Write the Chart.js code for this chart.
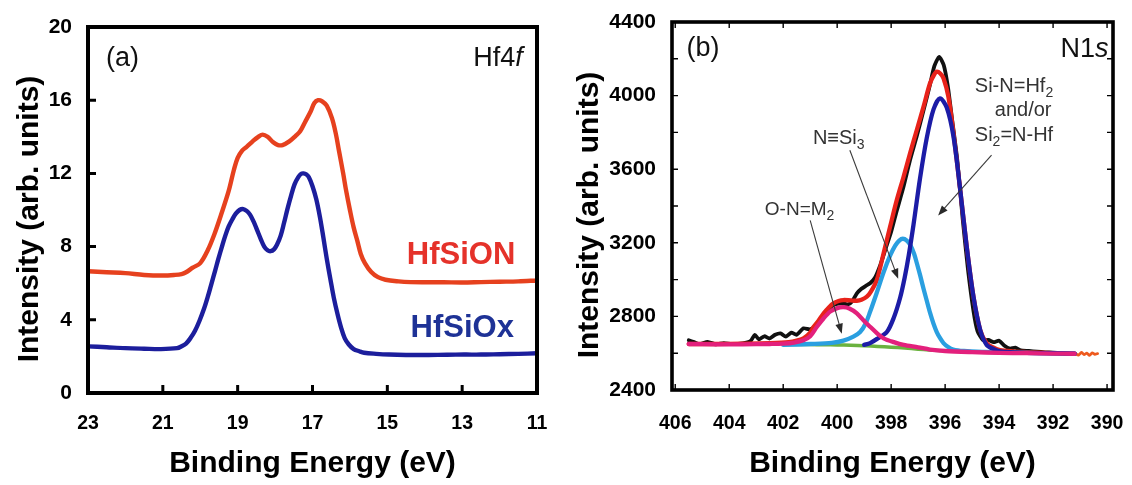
<!DOCTYPE html>
<html><head><meta charset="utf-8">
<script src="https://cdn.jsdelivr.net/npm/chart.js"></script>
<style>
html,body{margin:0;padding:0;background:#fff;}
#wrap{position:relative;width:1132px;height:485px;overflow:hidden;background:#fff;}
canvas{position:absolute;top:0;}
#ca{left:0;} #cb{left:560px;}
</style></head><body>
<div id="wrap"><canvas id="ca" width="560" height="485"></canvas><canvas id="cb" width="572" height="485"></canvas></div>
<script>
// ---------- Panel (a): Hf4f ----------
const energyHfSiON = [23.0,22.5,22.0,21.5,21.0,20.7,20.5,20.38,20.2,20.0,19.8,19.62,19.45,19.24,19.1,19.0,18.88,18.76,18.6,18.45,18.33,18.2,18.05,17.92,17.8,17.62,17.45,17.33,17.2,17.05,16.95,16.85,16.75,16.62,16.48,16.38,16.29,16.18,16.1,16.0,15.9,15.8,15.71,15.6,15.43,15.25,15.05,14.7,14.38,14.0,13.5,13.0,12.5,12.0,11.5,11.0];
const intensityHfSiON = [6.65,6.6,6.55,6.45,6.42,6.45,6.5,6.6,6.85,7.1,7.8,8.69,9.7,11.04,12.2,12.85,13.25,13.45,13.75,14.0,14.12,14.0,13.7,13.55,13.55,13.75,14.05,14.3,14.8,15.38,15.85,16.0,15.95,15.7,15.02,14.2,13.21,12.0,11.04,10.0,9.05,8.3,7.6,7.1,6.61,6.33,6.19,6.1,6.06,6.05,6.05,6.04,6.06,6.08,6.1,6.15];
const energyHfSiOx = [23.0,22.5,22.0,21.5,21.05,20.62,20.5,20.38,20.26,20.14,20.02,19.9,19.8,19.71,19.6,19.52,19.42,19.33,19.24,19.14,19.05,18.95,18.85,18.76,18.67,18.57,18.48,18.38,18.29,18.2,18.12,18.03,17.95,17.85,17.76,17.67,17.57,17.48,17.38,17.3,17.24,17.17,17.1,17.0,16.9,16.8,16.71,16.62,16.52,16.43,16.33,16.24,16.14,16.03,15.9,15.75,15.62,15.3,14.95,14.5,13.9,13.4,12.95,12.5,12.0,11.5,11.0];
const intensityHfSiOx = [2.55,2.5,2.45,2.42,2.4,2.45,2.55,2.7,3.0,3.4,3.95,4.6,5.25,5.9,6.7,7.3,8.0,8.6,9.1,9.5,9.8,10.0,10.05,9.95,9.75,9.35,8.9,8.4,8.0,7.8,7.75,7.85,8.1,8.6,9.3,10.05,10.8,11.4,11.8,11.98,12.0,11.95,11.8,11.3,10.6,9.6,8.5,7.35,6.2,5.2,4.3,3.6,3.0,2.65,2.4,2.28,2.2,2.14,2.1,2.08,2.08,2.09,2.1,2.1,2.12,2.14,2.17];
const ticksAX = [23,21,19,17,15,13,11];
const ticksAY = [0,4,8,12,16,20];
const innerTicksAX = [21,19,17,15,13];
const innerTicksAY = [4,8,12,16];

// ---------- Panel (b): N1s ----------
const energyRaw = [405.5,405.3,405.1,404.8,404.5,404.2,403.9,403.5,403.2,403.05,402.9,402.7,402.5,402.3,402.1,401.9,401.7,401.5,401.25,401.0,400.75,400.5,400.3,400.14,399.95,399.77,399.6,399.45,399.27,399.1,398.95,398.78,398.6,398.4,398.2,398.0,397.8,397.55,397.3,397.05,396.8,396.56,396.4,396.22,396.05,395.9,395.75,395.55,395.35,395.15,394.95,394.8,394.6,394.4,394.2,394.0,393.8,393.6,393.4,393.2,392.9,392.6,392.3,392.0,391.7,391.4];
const intensityRaw = [2670,2660,2650,2662,2648,2655,2650,2654,2668,2700,2675,2692,2680,2700,2708,2690,2712,2700,2735,2730,2753,2798,2840,2862,2870,2871,2865,2880,2925,2950,2965,2980,3010,3080,3170,3260,3370,3500,3650,3780,3920,4060,4160,4211,4165,4050,3880,3650,3330,3050,2830,2720,2672,2672,2660,2668,2640,2625,2630,2615,2612,2608,2605,2603,2600,2598];
const energyFit = [405.5,404.5,403.5,402.5,401.8,401.5,401.25,401.0,400.87,400.7,400.5,400.3,400.14,399.95,399.77,399.5,399.27,399.1,398.9,398.75,398.53,398.28,398.04,397.79,397.54,397.3,397.05,396.8,396.56,396.4,396.31,396.18,396.06,395.88,395.69,395.44,395.2,394.95,394.7,394.46,394.2,393.96,393.5,393.0,392.5,392.0,391.5,391.2];
const intensityFit = [2650,2650,2652,2655,2660,2668,2681,2712,2744,2775,2817,2850,2871,2884,2889,2887,2885,2890,2907,2935,2998,3143,3287,3433,3559,3686,3813,3940,4067,4115,4130,4120,4094,3994,3795,3487,3179,2907,2726,2654,2630,2617,2610,2606,2603,2600,2598,2597];
const energyTail = [391.2,391.05,390.95,390.85,390.75,390.65,390.55,390.45,390.35];
const intensityTail = [2597,2590,2604,2593,2600,2588,2602,2594,2598];
const energySiNHf = [399.0,398.78,398.5,398.16,397.91,397.67,397.5,397.35,397.17,396.93,396.68,396.43,396.19,395.94,395.69,395.44,395.2,394.95,394.7,394.46,394.2,393.96,393.5,393.0,392.0,391.2];
const intensitySiNHf = [2645,2655,2680,2715,2790,2900,3010,3130,3300,3550,3770,3925,3985,3935,3777,3487,3179,2907,2726,2645,2622,2610,2605,2602,2600,2598];
const energyNSi3 = [402.0,401.0,400.2,399.77,399.4,399.15,398.95,398.78,398.53,398.28,398.04,397.85,397.7,397.57,397.42,397.28,397.15,397.05,396.92,396.8,396.68,396.56,396.43,396.31,396.18,396.06,395.9,395.7,395.3,394.5,393.5,392.5,391.2];
const intensityNSi3 = [2645,2650,2656,2668,2690,2715,2760,2825,2930,3040,3130,3185,3212,3222,3212,3185,3140,3090,3020,2950,2885,2820,2760,2715,2680,2655,2635,2620,2612,2607,2603,2600,2597];
const energyONM = [405.5,404.5,403.5,402.5,402.0,401.6,401.25,401.0,400.75,400.5,400.26,400.0,399.77,399.55,399.27,399.0,398.78,398.5,398.28,397.9,397.54,397.0,396.56,396.0,395.0,394.0,393.0,392.0,391.2];
const intensityONM = [2650,2648,2648,2650,2652,2658,2670,2692,2744,2790,2826,2845,2850,2843,2817,2775,2744,2705,2681,2660,2645,2632,2620,2612,2606,2602,2600,2598,2597];
const energyBg = [401.7,401.0,400.5,400.0,399.5,399.0,398.5,398.0,397.5,397.0,396.6,396.2];
const intensityBg = [2648,2647,2646,2645,2643,2640,2637,2633,2628,2622,2618,2614];
const ticksBX = [406,404,402,400,398,396,394,392,390];
const ticksBY = [2400,2800,3200,3600,4000,4400];
const innerTicksBX = [406,404,402,400,398,396,394,392,390];
const innerTicksBY = [2600,2800,3000,3200,3400,3600,3800,4000,4200];

const FONT = '"Liberation Sans", Arial, Helvetica, sans-serif';

function pts(xs, ys){ return xs.map((x,i)=>({x:x, y:ys[i]})); }
function line(xs, ys, color, width, order, tension){
  return {data: pts(xs, ys), borderColor: color, backgroundColor: color, borderWidth: width,
    pointRadius: 0, showLine: true, fill: false, tension: tension, order: order,
    borderCapStyle: 'round', borderJoinStyle: 'round'};
}

function frameTicks(cfg){
  return {id:'frameTicks', afterDraw(chart){
    const ctx = chart.ctx, a = chart.chartArea, xs = chart.scales.x, ys = chart.scales.y;
    ctx.save();
    ctx.strokeStyle = '#000'; ctx.lineCap = 'butt';
    ctx.lineWidth = cfg.tickWidth;
    ctx.beginPath();
    cfg.xTicks.forEach(v => { const p = xs.getPixelForValue(v);
      ctx.moveTo(p, a.bottom); ctx.lineTo(p, a.bottom - cfg.len);
      if (cfg.mirror) { ctx.moveTo(p, a.top); ctx.lineTo(p, a.top + cfg.len); } });
    cfg.yTicks.forEach(v => { const p = ys.getPixelForValue(v);
      ctx.moveTo(a.left, p); ctx.lineTo(a.left + cfg.len, p);
      if (cfg.mirror) { ctx.moveTo(a.right, p); ctx.lineTo(a.right - cfg.len, p); } });
    ctx.stroke();
    ctx.lineWidth = cfg.frameWidth; ctx.lineJoin = 'miter';
    ctx.strokeRect(a.left, a.top, a.right - a.left, a.bottom - a.top);
    ctx.restore();
  }};
}
function yTitle(text, cx, shift, size){
  return {id:'yTitle', afterDraw(chart){
    const ctx = chart.ctx, a = chart.chartArea;
    ctx.save();
    ctx.translate(cx, (a.top + a.bottom)/2 + shift);
    ctx.rotate(-Math.PI/2);
    ctx.font = 'bold ' + size + 'px ' + FONT;
    ctx.fillStyle = '#000'; ctx.textAlign = 'center'; ctx.textBaseline = 'middle';
    ctx.fillText(text, 0, 0);
    ctx.restore();
  }};
}

function drawRich(ctx, chart, item){
  const xs = chart.scales.x, ys = chart.scales.y;
  let px = xs.getPixelForValue(item.x); const py = ys.getPixelForValue(item.y);
  const size = item.size;
  const fontFor = p => (p.italic ? 'italic ' : '') + (item.bold ? 'bold ' : '') + (p.sub ? Math.round(size*0.72) : size) + 'px ' + FONT;
  let total = 0;
  item.parts.forEach(p => { ctx.font = fontFor(p); total += ctx.measureText(p.t).width; });
  if (item.align === 'right') px -= total; else if (item.align === 'center') px -= total/2;
  ctx.fillStyle = item.color; ctx.textBaseline = 'middle'; ctx.textAlign = 'left';
  item.parts.forEach(p => { ctx.font = fontFor(p); ctx.fillText(p.t, px, py + (p.sub ? size*0.32 : 0)); px += ctx.measureText(p.t).width; });
}
function drawArrow(ctx, chart, ar){
  const xs = chart.scales.x, ys = chart.scales.y;
  const x1 = xs.getPixelForValue(ar.x1), y1 = ys.getPixelForValue(ar.y1);
  const x2 = xs.getPixelForValue(ar.x2), y2 = ys.getPixelForValue(ar.y2);
  const ang = Math.atan2(y2-y1, x2-x1), L = 10, W = 3.8;
  ctx.strokeStyle = '#3a3a3a'; ctx.fillStyle = '#2a2a2a'; ctx.lineWidth = 1.1;
  ctx.beginPath(); ctx.moveTo(x1, y1); ctx.lineTo(x2 - L*0.7*Math.cos(ang), y2 - L*0.7*Math.sin(ang)); ctx.stroke();
  ctx.beginPath(); ctx.moveTo(x2, y2);
  ctx.lineTo(x2 - L*Math.cos(ang) + W*Math.sin(ang), y2 - L*Math.sin(ang) - W*Math.cos(ang));
  ctx.lineTo(x2 - L*Math.cos(ang) - W*Math.sin(ang), y2 - L*Math.sin(ang) + W*Math.cos(ang));
  ctx.closePath(); ctx.fill();
}
function annotations(texts, arrows){
  return {id:'annot', afterDraw(chart){
    const ctx = chart.ctx; ctx.save();
    arrows.forEach(a => drawArrow(ctx, chart, a));
    texts.forEach(t => drawRich(ctx, chart, t));
    ctx.restore();
  }};
}

function zeroPad(s){ s.paddingLeft = 0; s.paddingRight = 0; s.paddingTop = 0; s.paddingBottom = 0; }
function axes(o){
  return {
    x: {type:'linear', reverse:true, min:o.xmin, max:o.xmax,
      afterBuildTicks: s => { s.ticks = o.xTicks.map(v => ({value:v})); },
      afterFit: s => { s.height = o.xHeight; zeroPad(s); },
      grid:{display:false, drawTicks:false}, border:{display:false},
      ticks:{padding:o.xPad, color:'#000', maxRotation:0, autoSkip:false, callback: v => String(v),
        font:{family:FONT, size:19.5, weight:'bold'}},
      title:{display:true, text:'Binding Energy (eV)', color:'#000', font:{family:FONT, size:30, weight:'bold'}, padding:{top:0, bottom:3}}},
    y: {type:'linear', min:o.ymin, max:o.ymax,
      afterBuildTicks: s => { s.ticks = o.yTicks.map(v => ({value:v})); },
      afterFit: s => { s.width = o.yWidth; zeroPad(s); },
      grid:{display:false, drawTicks:false}, border:{display:false},
      ticks:{padding:16, color:'#000', callback: v => String(v), font:{family:FONT, size:21, weight:'bold'}},
      title:{display:false}}
  };
}
const baseOpts = {responsive:false, animation:false, devicePixelRatio:1,
  plugins:{legend:{display:false}, tooltip:{enabled:false}}};

// Panel (a)
new Chart(document.getElementById('ca'), {
  type:'scatter',
  data:{datasets:[
    line(energyHfSiON, intensityHfSiON, '#e6411e', 4.4, 1, 0.35),
    line(energyHfSiOx, intensityHfSiOx, '#1c1e9c', 4.4, 0, 0.35)
  ]},
  options: Object.assign({}, baseOpts, {
    layout:{padding:{top:27, right:23, left:0, bottom:0}},
    scales: axes({xmin:11, xmax:23, ymin:0, ymax:20, xTicks:ticksAX, yTicks:ticksAY, xHeight:92, yWidth:88, xPad:19})
  }),
  plugins:[
    frameTicks({xTicks:innerTicksAX, yTicks:innerTicksAY, len:8, tickWidth:3, frameWidth:4, mirror:false}),
    yTitle('Intensity (arb. units)', 30, 9, 30),
    annotations([
      {x:22.52, y:18.3, size:27, color:'#111', parts:[{t:'(a)'}]},
      {x:11.38, y:18.3, size:27, color:'#111', align:'right', parts:[{t:'Hf4'},{t:'f', italic:true}]},
      {x:14.48, y:7.5, size:31, bold:true, color:'#e5322a', parts:[{t:'HfSiON'}]},
      {x:14.38, y:3.53, size:31, bold:true, color:'#1e3296', parts:[{t:'HfSiOx'}]}
    ], [])
  ]
});

// Panel (b)
new Chart(document.getElementById('cb'), {
  type:'scatter',
  data:{datasets:[
    line(energyONM, intensityONM, '#e3207c', 4.3, 0, 0.3),
    line(energySiNHf, intensitySiNHf, '#1c1ca6', 4.3, 1, 0.3),
    line(energyNSi3, intensityNSi3, '#2a9fe0', 4.3, 2, 0.3),
    line(energyFit, intensityFit, '#e8221a', 4.3, 3, 0.3),
    line(energyTail, intensityTail, '#ee5a1e', 2.8, 3, 0.2),
    line(energyRaw, intensityRaw, '#111111', 3.8, 4, 0.2),
    line(energyBg, intensityBg, '#6ab23f', 3.5, 5, 0.3)
  ]},
  options: Object.assign({}, baseOpts, {
    layout:{padding:{top:22, right:19, left:0, bottom:0}},
    scales: axes({xmin:389.78, xmax:406.12, ymin:2400, ymax:4400, xTicks:ticksBX, yTicks:ticksBY, xHeight:95, yWidth:112, xPad:22})
  }),
  plugins:[
    frameTicks({xTicks:innerTicksBX, yTicks:innerTicksBY, len:6, tickWidth:1.4, frameWidth:3.6, mirror:true}),
    yTitle('Intensity (arb. units)', 30, 9, 30),
    annotations([
      {x:405.58, y:4255, size:27, color:'#111', parts:[{t:'(b)'}]},
      {x:389.95, y:4250, size:27, color:'#111', align:'right', parts:[{t:'N1'},{t:'s', italic:true}]},
      {x:394.9, y:4047, size:20, color:'#333', parts:[{t:'Si-N=Hf'},{t:'2', sub:true}]},
      {x:394.16, y:3920, size:20, color:'#333', parts:[{t:'and/or'}]},
      {x:394.9, y:3784, size:20, color:'#333', parts:[{t:'Si'},{t:'2', sub:true},{t:'=N-Hf'}]},
      {x:400.9, y:3766, size:20, color:'#333', parts:[{t:'N\u2261Si'},{t:'3', sub:true}]},
      {x:402.68, y:3377, size:19, color:'#333', parts:[{t:'O-N=M'},{t:'2', sub:true}]}
    ], [
      {x1:401.0, y1:3322, x2:399.83, y2:2706},
      {x1:399.53, y1:3703, x2:397.74, y2:3005},
      {x1:394.28, y1:3676, x2:396.26, y2:3349}
    ])
  ]
});
</script>
</body></html>
